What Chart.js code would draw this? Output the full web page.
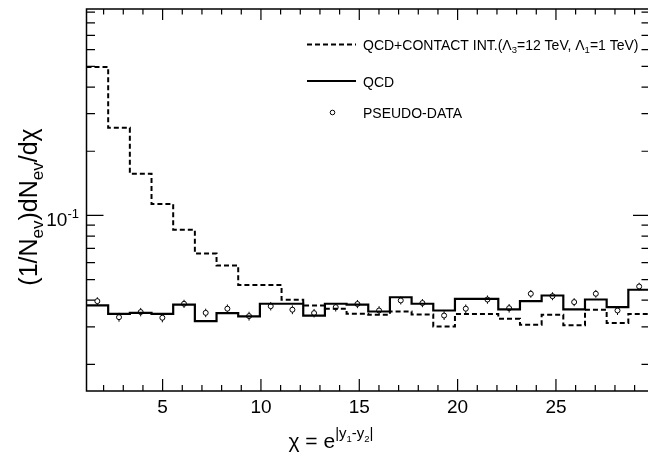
<!DOCTYPE html>
<html>
<head>
<meta charset="utf-8">
<script src="https://cdn.jsdelivr.net/npm/chart.js@4.4.0/dist/chart.umd.min.js"></script>
<style>
  html, body { margin: 0; padding: 0; background: #fff; overflow: hidden; }
  #wrap { width: 648px; height: 464px; overflow: hidden; }
</style>
</head>
<body>
<div id="wrap"><canvas id="chart" width="660" height="464"></canvas></div>
<script>
// histogram binning (26 equal bins)
const xStart = 1.13;
const binWidth = 1.102;
const binCount = 26;

// QCD + contact interaction (dashed)
const contactValues = [0.497, 0.258, 0.157, 0.113, 0.0857, 0.0663, 0.0582, 0.0471, 0.0471, 0.0402,
  0.0378, 0.0365, 0.0346, 0.0342, 0.0354, 0.0343, 0.0301, 0.0345, 0.0345, 0.0327,
  0.0307, 0.0342, 0.0305, 0.0361, 0.0313, 0.0345];

// QCD (solid)
const qcdValues = [0.0378, 0.0345, 0.0349, 0.0345, 0.0381, 0.0319, 0.0348, 0.0336, 0.0385, 0.0385,
  0.0339, 0.0385, 0.0381, 0.0354, 0.0413, 0.0385, 0.0358, 0.0406, 0.0406, 0.0362,
  0.0396, 0.0421, 0.0362, 0.0403, 0.0371, 0.0448];

// pseudo-data points and their errors
const pseudoValues = [0.0396, 0.0333, 0.0352, 0.0331, 0.0385, 0.0349, 0.0365, 0.0337, 0.0375, 0.0361,
  0.0348, 0.0371, 0.0384, 0.0358, 0.0399, 0.0388, 0.0339, 0.0365, 0.0403, 0.0367,
  0.0429, 0.0418, 0.0392, 0.0429, 0.0358, 0.0464];
const pseudoErrors = [0.0017, 0.0016, 0.0016, 0.0016, 0.0017, 0.0016, 0.0017, 0.0016, 0.0017, 0.0017,
  0.0016, 0.0017, 0.0017, 0.0017, 0.0017, 0.0017, 0.0016, 0.0017, 0.0018, 0.0017,
  0.0018, 0.0018, 0.0017, 0.0018, 0.0017, 0.0019];

// axis ticks
const xMajorTicks = [5, 10, 15, 20, 25];
const xTickLabels = ["5", "10", "15", "20", "25"];
const xMinorTicks = [2, 3, 4, 6, 7, 8, 9, 11, 12, 13, 14, 16, 17, 18, 19, 21, 22, 23, 24, 26, 27, 28, 29];
const yMajorTicks = [0.1];
const yMinorTicks = [0.02, 0.03, 0.04, 0.05, 0.06, 0.07, 0.08, 0.09, 0.2, 0.3, 0.4, 0.5, 0.6, 0.7, 0.8, 0.9];

const yMin = 0.015;
const yMax = 0.93;

const FONT = '"Liberation Sans", Arial, Helvetica, sans-serif';

const binEdges = [];
for (let i = 0; i <= binCount; i++) binEdges.push(xStart + i * binWidth);

function histPoints(values) {
  const pts = values.map((v, i) => ({ x: binEdges[i], y: v }));
  pts.push({ x: binEdges[binCount], y: values[values.length - 1] });
  return pts;
}

const pseudoPoints = pseudoValues.map((v, i) => ({
  x: (binEdges[i] + binEdges[i + 1]) / 2, y: v, err: pseudoErrors[i]
}));

// draw text pieces with sub/superscripts
function drawRich(ctx, parts, x, y, align) {
  let total = 0;
  parts.forEach(p => {
    ctx.font = p.size + "px " + FONT;
    p.w = ctx.measureText(p.t).width;
    total += p.w;
  });
  let cx = align === "right" ? x - total : align === "center" ? x - total / 2 : x;
  ctx.textAlign = "left";
  ctx.textBaseline = "alphabetic";
  parts.forEach(p => {
    ctx.font = p.size + "px " + FONT;
    ctx.fillText(p.t, cx, y + (p.dy || 0));
    cx += p.w;
  });
}

const errorBars = {
  id: "errorBars",
  beforeDatasetDraw(chart, args) {
    if (args.index !== 2) return;
    const ctx = chart.ctx;
    const ys = chart.scales.y;
    const xs = chart.scales.x;
    ctx.save();
    ctx.strokeStyle = "#000";
    ctx.lineWidth = 1;
    pseudoPoints.forEach(p => {
      const px = xs.getPixelForValue(p.x);
      ctx.beginPath();
      ctx.moveTo(px, ys.getPixelForValue(p.y + p.err));
      ctx.lineTo(px, ys.getPixelForValue(p.y - p.err));
      ctx.stroke();
    });
    ctx.restore();
  }
};

const frame = {
  id: "frame",
  afterDraw(chart) {
    const ctx = chart.ctx;
    const a = chart.chartArea;
    const xs = chart.scales.x;
    const ys = chart.scales.y;
    ctx.save();
    ctx.strokeStyle = "#000";
    ctx.fillStyle = "#000";
    ctx.lineWidth = 1.5;
    ctx.strokeRect(a.left, a.top, a.right - a.left, a.bottom - a.top);

    ctx.lineWidth = 1.2;
    ctx.beginPath();
    xMajorTicks.forEach(v => {
      const px = xs.getPixelForValue(v);
      ctx.moveTo(px, a.bottom); ctx.lineTo(px, a.bottom - 12);
      ctx.moveTo(px, a.top); ctx.lineTo(px, a.top + 11);
    });
    xMinorTicks.forEach(v => {
      const px = xs.getPixelForValue(v);
      ctx.moveTo(px, a.bottom); ctx.lineTo(px, a.bottom - 6);
      ctx.moveTo(px, a.top); ctx.lineTo(px, a.top + 5.5);
    });
    yMajorTicks.forEach(v => {
      const py = ys.getPixelForValue(v);
      ctx.moveTo(a.left, py); ctx.lineTo(a.left + 17, py);
      ctx.moveTo(a.right, py); ctx.lineTo(a.right - 17, py);
    });
    yMinorTicks.forEach(v => {
      const py = ys.getPixelForValue(v);
      ctx.moveTo(a.left, py); ctx.lineTo(a.left + 8.5, py);
      ctx.moveTo(a.right, py); ctx.lineTo(a.right - 8.5, py);
    });
    ctx.stroke();

    // tick labels
    ctx.font = "19px " + FONT;
    ctx.textAlign = "center";
    ctx.textBaseline = "alphabetic";
    xMajorTicks.forEach((v, i) => {
      ctx.fillText(xTickLabels[i], xs.getPixelForValue(v), 413);
    });
    yMajorTicks.forEach(v => {
      const py = ys.getPixelForValue(v);
      drawRich(ctx, [{ t: "10", size: 19 }, { t: "-1", size: 13, dy: -8 }], 79, py + 11, "right");
    });

    // axis titles
    drawRich(ctx, [
      { t: "\u03C7 = e", size: 21 },
      { t: "|y", size: 15, dy: -10 },
      { t: "1", size: 9.5, dy: -6 },
      { t: "-y", size: 15, dy: -10 },
      { t: "2", size: 9.5, dy: -6 },
      { t: "|", size: 15, dy: -10 }
    ], 331, 448, "center");

    ctx.save();
    ctx.translate(37, 207);
    ctx.rotate(-Math.PI / 2);
    drawRich(ctx, [
      { t: "(1/N", size: 25 },
      { t: "ev", size: 17, dy: 6 },
      { t: ")dN", size: 25 },
      { t: "ev", size: 17, dy: 6 },
      { t: "/d\u03C7", size: 25 }
    ], 0, 0, "center");
    ctx.restore();

    // legend
    ctx.lineWidth = 2;
    ctx.setLineDash([5, 3]);
    ctx.beginPath(); ctx.moveTo(307, 44.5); ctx.lineTo(356, 44.5); ctx.stroke();
    ctx.setLineDash([]);
    ctx.beginPath(); ctx.moveTo(307, 81); ctx.lineTo(356, 81); ctx.stroke();
    ctx.lineWidth = 1;
    ctx.fillStyle = "#fff";
    ctx.beginPath(); ctx.arc(332.5, 112.5, 2.3, 0, Math.PI * 2); ctx.fill(); ctx.stroke();
    ctx.fillStyle = "#000";
    drawRich(ctx, [
      { t: "QCD+CONTACT INT.(\u039B", size: 14 },
      { t: "3", size: 9.5, dy: 3 },
      { t: "=12 TeV, \u039B", size: 14 },
      { t: "1", size: 9.5, dy: 3 },
      { t: "=1 TeV)", size: 14 }
    ], 363, 50, "left");
    drawRich(ctx, [{ t: "QCD", size: 14 }], 363, 86.5, "left");
    drawRich(ctx, [{ t: "PSEUDO-DATA", size: 14 }], 363, 118, "left");
    ctx.restore();
  }
};

new Chart(document.getElementById("chart"), {
  type: "line",
  data: {
    datasets: [
      {
        label: "QCD+CONTACT INT.",
        data: histPoints(contactValues),
        stepped: "before",
        borderColor: "#000",
        borderWidth: 2,
        borderDash: [5, 3],
        pointRadius: 0,
        fill: false
      },
      {
        label: "QCD",
        data: histPoints(qcdValues),
        stepped: "before",
        borderColor: "#000",
        borderWidth: 2.2,
        pointRadius: 0,
        fill: false
      },
      {
        label: "PSEUDO-DATA",
        data: pseudoPoints,
        showLine: false,
        pointStyle: "circle",
        pointRadius: 2.5,
        pointBackgroundColor: "#fff",
        pointBorderColor: "#000",
        pointBorderWidth: 1
      }
    ]
  },
  options: {
    responsive: false,
    animation: false,
    events: [],
    layout: { padding: { left: 86.5, top: 9, right: 10, bottom: 73 } },
    plugins: { legend: { display: false }, tooltip: { enabled: false } },
    scales: {
      x: { type: "linear", min: xStart, max: xStart + binCount * binWidth, display: false },
      y: { type: "logarithmic", min: yMin, max: yMax, display: false }
    }
  },
  plugins: [errorBars, frame]
});
</script>
</body>
</html>
